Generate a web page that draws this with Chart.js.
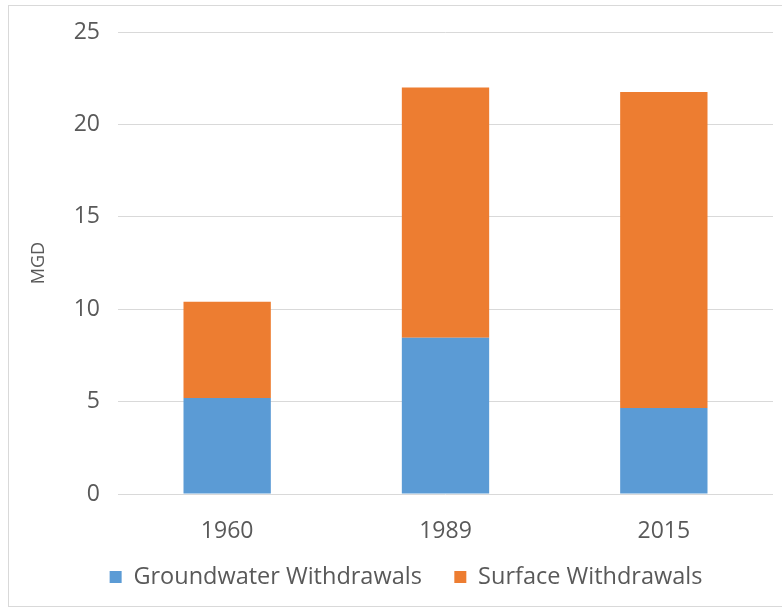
<!DOCTYPE html>
<html>
<head>
<meta charset="utf-8">
<script src="https://cdn.jsdelivr.net/npm/chart.js@4.4.1/dist/chart.umd.min.js"></script>
<style>
  html, body { margin: 0; padding: 0; background: #ffffff; }
  #wrap { width: 782px; height: 609px; }
</style>
</head>
<body>
<div id="wrap"><canvas id="chart" width="782" height="609"></canvas></div>
<script>
// Water withdrawals by source, million gallons per day
const years = ['1960', '1989', '2015'];
const groundwaterWithdrawals = [5.2, 8.45, 4.65];
const surfaceWithdrawals = [5.2, 13.55, 17.1];
const yTickLabels = ['0', '5', '10', '15', '20', '25'];

const TEXT = '#595959';
const LEGEND_GAP = 32.5;
const LEGEND_FONT = 23.5;

Chart.defaults.font.family = "'Open Sans', sans-serif";
Chart.defaults.color = TEXT;

// light frame round the whole chart area
const frame = {
  id: 'frame',
  beforeDraw(chart) {
    const ctx = chart.ctx;
    ctx.save();
    ctx.fillStyle = '#ffffff';
    ctx.fillRect(0, 0, chart.width, chart.height);
    ctx.strokeStyle = '#d9d9d9';
    ctx.lineWidth = 1;
    ctx.strokeRect(8.5, 5.5, 800, 601);
    ctx.restore();
  }
};

// put the legend row under the plot, centred on its own spot
const legendPlace = {
  id: 'legendPlace',
  afterLayout(chart) {
    const lg = chart.legend;
    if (!lg) return;
    const dx = 406 - (lg.left + lg.right) / 2;
    const dy = 577 - (lg.top + LEGEND_GAP + LEGEND_FONT / 2);
    lg.left += dx; lg.right += dx;
    lg.top += dy; lg.bottom += dy;
  }
};

new Chart(document.getElementById('chart'), {
  type: 'bar',
  data: {
    labels: years,
    datasets: [
      {
        label: 'Groundwater Withdrawals',
        data: groundwaterWithdrawals,
        backgroundColor: '#5b9bd5',
        borderWidth: 0,
        barPercentage: 0.5,
        categoryPercentage: 0.8
      },
      {
        label: 'Surface Withdrawals',
        data: surfaceWithdrawals,
        backgroundColor: '#ed7d31',
        borderWidth: 0,
        barPercentage: 0.5,
        categoryPercentage: 0.8
      }
    ]
  },
  options: {
    responsive: false,
    animation: false,
    devicePixelRatio: 1,
    layout: { padding: { top: 32, left: 8, right: 9, bottom: 0 } },
    plugins: {
      legend: {
        position: 'bottom',
        labels: {
          boxWidth: 12,
          boxHeight: 12,
          padding: LEGEND_GAP,
          color: TEXT,
          font: { size: LEGEND_FONT }
        }
      },
      tooltip: { enabled: false }
    },
    scales: {
      x: {
        stacked: true,
        grid: { display: false, drawTicks: false },
        border: { display: false },
        ticks: { padding: 24, color: TEXT, font: { size: 23 } },
        afterFit(scale) { scale.height = 49; }
      },
      y: {
        stacked: true,
        min: 0,
        max: 25,
        grid: { color: '#d9d9d9', lineWidth: 1, drawTicks: false },
        border: { display: false },
        ticks: {
          stepSize: 5,
          padding: 18,
          color: TEXT,
          font: { size: 23 },
          callback: (v, i) => yTickLabels[i]
        },
        title: {
          display: true,
          text: 'MGD',
          color: TEXT,
          font: { size: 18 },
          padding: { top: 20, bottom: 0 }
        },
        afterFit(scale) { scale.width = 110; }
      }
    }
  },
  plugins: [frame, legendPlace]
});
</script>
</body>
</html>
